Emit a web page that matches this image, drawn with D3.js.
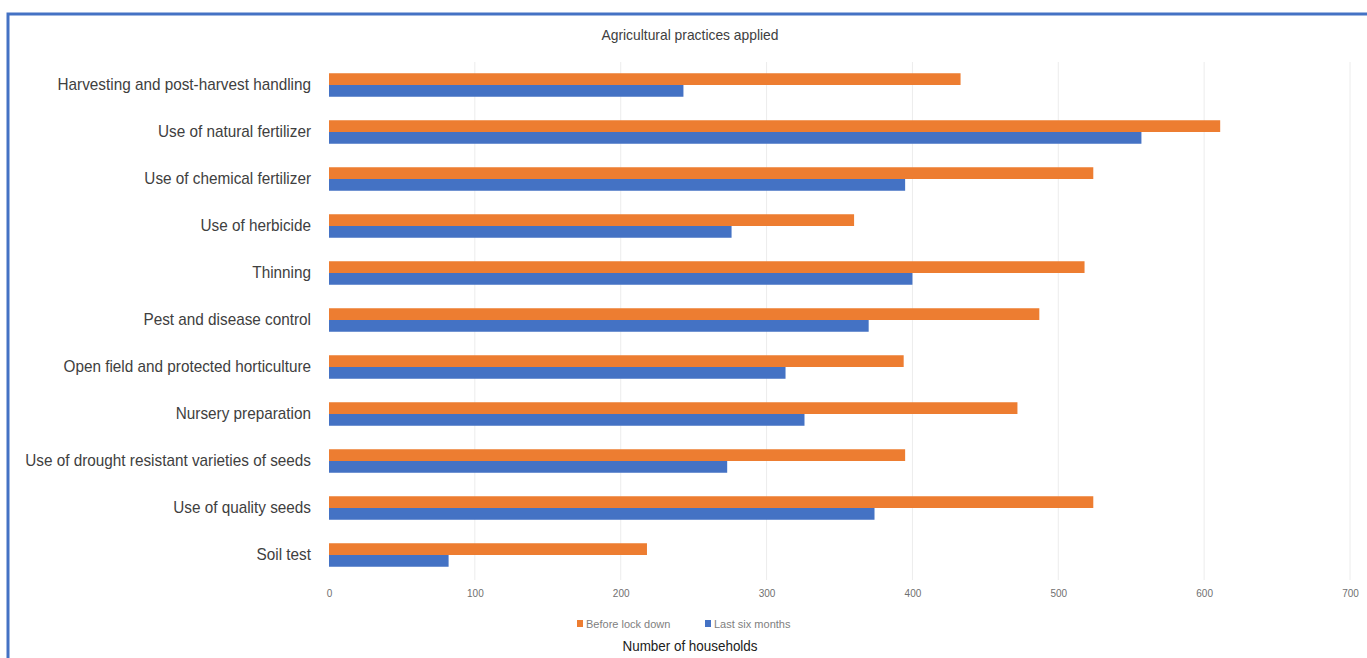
<!DOCTYPE html>
<html><head><meta charset="utf-8">
<script src="https://cdn.jsdelivr.net/npm/d3@7"></script>
<style>
html,body{margin:0;padding:0;background:#fff;}
svg{display:block;}
</style></head>
<body>
<svg id="chart" width="1367" height="658"></svg>
<script>
const categories = [
  "Harvesting and post-harvest handling",
  "Use of natural fertilizer",
  "Use of chemical fertilizer",
  "Use of herbicide",
  "Thinning",
  "Pest and disease control",
  "Open field and protected horticulture",
  "Nursery preparation",
  "Use of drought resistant varieties of seeds",
  "Use of quality seeds",
  "Soil test"
];
const beforeLockDown = [433, 611, 524, 360, 518, 487, 394, 472, 395, 524, 218];
const lastSixMonths  = [243, 557, 395, 276, 400, 370, 313, 326, 273, 374, 82];
const seriesNames = ["Before lock down", "Last six months"];
const xTicks = [0, 100, 200, 300, 400, 500, 600, 700];
const chartTitle = "Agricultural practices applied";
const xAxisTitle = "Number of households";

const colors = ["#ED7D31", "#4472C4"];
const font = "'Liberation Sans','Arial',sans-serif";

const svg = d3.select("#chart");

// frame
svg.append("rect").attr("x", 8).attr("y", 14).attr("width", 1400).attr("height", 700)
  .attr("fill", "#fff").attr("stroke", "#4472C4").attr("stroke-width", 3);

const x = d3.scaleLinear().domain([0, 700]).range([329, 1350]);
const y = d3.scaleBand().domain(categories).range([61.5, 578.5]).paddingInner(0.5).paddingOuter(0.25);
const sub = d3.scaleBand().domain(seriesNames).range([0, y.bandwidth()]);

// gridlines
svg.append("g").selectAll("line").data(xTicks.slice(1)).join("line")
  .attr("x1", d => x(d)).attr("x2", d => x(d))
  .attr("y1", 62).attr("y2", 580)
  .attr("stroke", "#ececec").attr("stroke-width", 1);

// bars
const data = categories.map((c, i) => ({c, vals: [beforeLockDown[i], lastSixMonths[i]]}));
const groups = svg.append("g").selectAll("g").data(data).join("g")
  .attr("transform", d => `translate(0,${y(d.c)})`);
groups.selectAll("rect").data(d => d.vals.map((v, j) => ({v, s: seriesNames[j], j}))).join("rect")
  .attr("x", x(0)).attr("y", d => sub(d.s))
  .attr("width", d => x(d.v) - x(0)).attr("height", sub.bandwidth())
  .attr("fill", d => colors[d.j]);

// y axis labels (condensed to mimic narrow font)
const yAxis = d3.axisLeft(y).tickSize(0).tickPadding(18);
const yg = svg.append("g").attr("transform", `translate(${x(0)},0)`).call(yAxis);
yg.select(".domain").remove();
yg.selectAll("text").attr("font-family", font).attr("font-size", 17).attr("fill", "#404040")
  .each(function() {
    const len = this.getComputedTextLength();
    d3.select(this).attr("textLength", len * 0.9).attr("lengthAdjust", "spacingAndGlyphs");
  });

// x axis
const xAxis = d3.axisBottom(x).tickValues(xTicks).tickSize(0).tickPadding(0);
const xg = svg.append("g").attr("transform", `translate(0,590)`).call(xAxis);
xg.select(".domain").remove();
xg.selectAll("text").attr("font-family", font).attr("font-size", 10).attr("fill", "#707070");

// title
svg.append("text").attr("x", 690).attr("y", 40).attr("text-anchor", "middle")
  .attr("font-family", font).attr("font-size", 15).attr("fill", "#404040")
  .attr("textLength", 177).attr("lengthAdjust", "spacingAndGlyphs").text(chartTitle);

// legend
const lg = svg.append("g").attr("transform", "translate(577,624)");
const legendX = [0, 128];
seriesNames.forEach((s, i) => {
  lg.append("rect").attr("x", legendX[i]).attr("y", -4).attr("width", 6).attr("height", 7).attr("fill", colors[i]);
  lg.append("text").attr("x", legendX[i] + 9).attr("y", 3.5)
    .attr("font-family", font).attr("font-size", 11).attr("fill", "#808080").text(s);
});

// x axis title
svg.append("text").attr("x", 690).attr("y", 651).attr("text-anchor", "middle")
  .attr("font-family", font).attr("font-size", 15).attr("fill", "#202020")
  .attr("textLength", 135).attr("lengthAdjust", "spacingAndGlyphs").text(xAxisTitle);
</script>
</body></html>
